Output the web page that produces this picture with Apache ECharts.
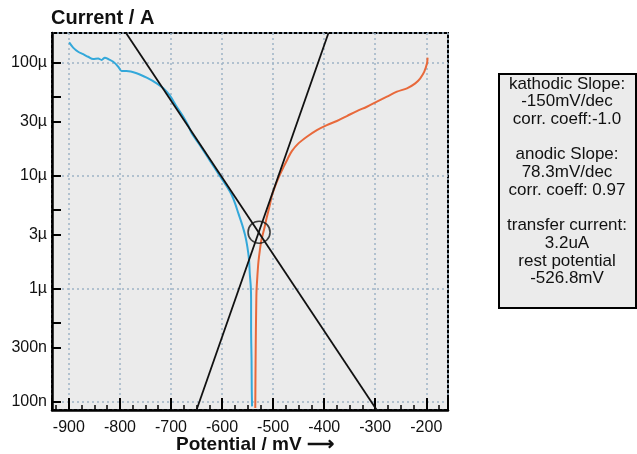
<!DOCTYPE html>
<html>
<head>
<meta charset="utf-8">
<script src="https://cdn.jsdelivr.net/npm/echarts@6/dist/echarts.min.js"></script>
<style>html,body{margin:0;padding:0;background:#fff;}#c{width:637px;height:454px;}</style>
</head>
<body>
<div id="c"></div>
<script>
// ---- data (potential in mV, current in A) ----
const cathodicPotential = [-899.4,-891.6,-881.8,-872.0,-862.2,-852.4,-842.5,-835.9,-829.4,-823.0,-813.1,-803.3,-796.7,-786.9,-767.3,-747.6,-728.0,-715.1,-702.0,-688.8,-675.9,-666.1,-659.4,-645,-625,-605,-590,-581,-574.5,-568,-561.4,-554.9,-550.4,-547.1,-545.7,-543.7,-543.1,-543.1,-542.2,-541.8,-541.2];
const cathodicCurrent = [1.50e-4,1.35e-4,1.24e-4,1.18e-4,1.12e-4,1.07e-4,1.08e-4,1.05e-4,1.10e-4,1.07e-4,1.01e-4,9.14e-5,8.37e-5,8.37e-5,8.0e-5,7.31e-5,6.52e-5,5.89e-5,5.07e-5,4.04e-5,3.30e-5,2.75e-5,2.36e-5,1.9e-5,1.38e-5,1.0e-5,7.9e-6,6.71e-6,5.66e-6,4.62e-6,3.77e-6,2.97e-6,2.34e-6,1.79e-6,1.36e-6,1.04e-6,7.9e-7,4.3e-7,2.33e-7,1.27e-7,9.1e-8];
const anodicPotential = [-197.5,-198.6,-203.9,-211.8,-221.6,-237.8,-257.5,-277.1,-296.7,-316.3,-335.9,-355.5,-375.1,-394.7,-414.3,-433.9,-450.4,-463.3,-471.6,-479.4,-487.3,-494.1,-502,-506.9,-512.7,-518,-522.9,-525.9,-528.8,-530.8,-532.4,-532.9,-533.7,-534.3,-534.7,-534.9];
const anodicCurrent = [1.10e-4,9.8e-5,8.26e-5,7.22e-5,6.52e-5,5.89e-5,5.50e-5,4.97e-5,4.49e-5,4.05e-5,3.71e-5,3.35e-5,3.03e-5,2.79e-5,2.52e-5,2.20e-5,1.92e-5,1.64e-5,1.40e-5,1.19e-5,1.0e-5,8.46e-6,6.71e-6,5.36e-6,4.20e-6,3.29e-6,2.69e-6,2.19e-6,1.71e-6,1.29e-6,9.7e-7,7.9e-7,4.3e-7,2.33e-7,1.27e-7,8.8e-8];
const cathodicFitPotential = [-788, -297];
const cathodicFitCurrent = [1.816e-4, 8.45e-8];
const anodicFitPotential = [-650, -391.6];
const anodicFitCurrent = [8.45e-8, 1.816e-4];
const intersectionPotential = [-527.5];
const intersectionCurrent = [3.15e-6];

const xMin = -933, xMax = -157.5;
const yMin = 8.45e-8, yMax = 1.816e-4;
const yTickValues = [1e-7,3e-7,5e-7,1e-6,3e-6,5e-6,1e-5,3e-5,5e-5,1e-4];
const yLabelValues = [1e-7,3e-7,1e-6,3e-6,1e-5,3e-5,1e-4];
const yLabelTexts = ['100n','300n','1µ','3µ','10µ','30µ','100µ'];

const infoLines = ['kathodic Slope:','-150mV/dec','corr. coeff:-1.0','','anodic Slope:','78.3mV/dec','corr. coeff: 0.97','','transfer current:','3.2uA','rest potential','-526.8mV'];

const zip = (a, b) => a.map((v, i) => [v, b[i]]);
const FONT = "'Liberation Sans', Arial, sans-serif";
const gridColor = '#9fb4c6';

const chart = echarts.init(document.getElementById('c'), null, {renderer: 'canvas'});
chart.setOption({
  animation: false,
  backgroundColor: '#fff',
  textStyle: {fontFamily: FONT},
  title: [
    {text: 'Current / A', left: 51, top: 8, padding: 0,
     textStyle: {fontSize: 20, fontWeight: 'bold', color: '#111', fontFamily: FONT}},
    {text: 'Potential / mV \u27F6', left: 176, top: 435, padding: 0,
     textStyle: {fontSize: 19, fontWeight: 'bold', color: '#111', fontFamily: FONT}}
  ],
  grid: {left: 52, right: 189, top: 33, bottom: 44, show: true,
         backgroundColor: '#ebebeb', borderColor: '#000', borderWidth: 2, containLabel: false},
  xAxis: {
    type: 'value', min: xMin, max: xMax, splitNumber: 8,
    axisLine: {onZero: false, lineStyle: {color: '#000', width: 2.5}},
    axisTick: {inside: true, length: 12, lineStyle: {color: '#000', width: 2}},
    minorTick: {show: true, splitNumber: 4, length: 5, lineStyle: {color: '#000', width: 1.5}},
    axisLabel: {showMinLabel: false, showMaxLabel: false, margin: 10, fontSize: 16, color: '#111', fontFamily: FONT},
    splitLine: {show: true, lineStyle: {color: gridColor, type: [2, 3], width: 1.5}},
    minorSplitLine: {show: false}
  },
  yAxis: [
    {
      type: 'log', logBase: 10, min: yMin, max: yMax, position: 'left',
      axisLine: {show: true, lineStyle: {color: '#000', width: 2.5}},
      axisTick: {show: true, inside: false, length: -9, customValues: yTickValues, lineStyle: {color: '#000', width: 2}},
      axisLabel: {show: true, margin: 5, fontSize: 16, color: '#111', fontFamily: FONT,
        customValues: yLabelValues,
        formatter: function (v) {
          for (let k = 0; k < yLabelValues.length; k++) {
            if (Math.abs(Math.log10(v) - Math.log10(yLabelValues[k])) < 1e-4) return yLabelTexts[k];
          }
          return '';
        }},
      splitLine: {show: false}
    },
    {
      type: 'log', logBase: 10, min: yMin, max: yMax, position: 'left',
      axisLine: {show: false},
      axisTick: {show: false},
      axisLabel: {show: false},
      splitLine: {show: true, lineStyle: {color: gridColor, type: [2, 3], width: 1.5}}
    }
  ],
  series: [
    {type: 'line', name: 'cathodic', yAxisIndex: 0, data: zip(cathodicPotential, cathodicCurrent),
     showSymbol: false, smooth: 0.3, lineStyle: {color: '#33a8da', width: 2}, z: 2},
    {type: 'line', name: 'anodic', yAxisIndex: 0, data: zip(anodicPotential, anodicCurrent),
     showSymbol: false, smooth: 0.3, lineStyle: {color: '#e8693b', width: 2}, z: 2},
    {type: 'line', name: 'cathodic fit', yAxisIndex: 0, data: zip(cathodicFitPotential, cathodicFitCurrent),
     showSymbol: false, lineStyle: {color: '#111', width: 1.8}, z: 3},
    {type: 'line', name: 'anodic fit', yAxisIndex: 0, data: zip(anodicFitPotential, anodicFitCurrent),
     showSymbol: false, lineStyle: {color: '#111', width: 1.8}, z: 3},
    {type: 'scatter', name: 'intersection', yAxisIndex: 0, data: zip(intersectionPotential, intersectionCurrent),
     symbol: 'circle', symbolSize: 22,
     itemStyle: {color: 'rgba(0,0,0,0)', borderColor: '#111', borderWidth: 1.6}, z: 4}
  ],
  graphic: [
    {type: 'rect', left: 498, top: 73, shape: {width: 137, height: 234},
     style: {fill: '#ebebeb', stroke: '#000', lineWidth: 2}, z: 10},
    {type: 'text', x: 567, y: 75, z: 11,
     style: {text: infoLines.join('\n'), fill: '#111', fontSize: 17, fontFamily: FONT,
             lineHeight: 17.7, align: 'center', verticalAlign: 'top'}}
  ]
});
</script>
</body>
</html>
